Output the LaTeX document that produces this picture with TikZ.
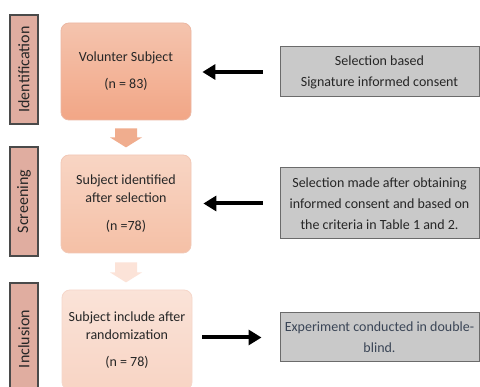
\documentclass[tikz,border=0pt]{standalone}
\usepackage{fontspec}
\setmainfont{Carlito}
\usetikzlibrary{arrows.meta}
\definecolor{txt}{HTML}{262626}
\definecolor{txtb}{HTML}{3A4556}
\definecolor{lblfill}{HTML}{E0ADA0}
\definecolor{lbldraw}{HTML}{4A4A4A}
\definecolor{grayfill}{HTML}{C9C9C9}
\definecolor{graydraw}{HTML}{6B6B6B}
\definecolor{aone}{HTML}{F0AD8E}
\definecolor{atwo}{HTML}{FCE3D8}
\begin{document}
\begin{tikzpicture}[x=1pt,y=-1pt,
  mainbox/.style={rounded corners=8pt, minimum width=130pt, align=center,
    text=txt, font=\fontsize{14}{18}\selectfont, line width=0.8pt},
  lblbox/.style={rotate=90, fill=lblfill, draw=lbldraw, line width=1.2pt,
    minimum width=109pt, minimum height=28pt, text=txt,
    font=\fontsize{16}{18}\selectfont},
  sidebox/.style={fill=grayfill, draw=graydraw, line width=1pt,
    minimum width=199pt, align=center, text=txt,
    font=\fontsize{14}{21}\selectfont},
  bigarrow/.style={line width=4pt, -{Triangle[length=13pt,width=15pt]}}]
\useasboundingbox (0,0) rectangle (480,387);
\clip (0,0) rectangle (480,387);
\fill[white] (0,0) rectangle (480,387);
% left labels
\node[lblbox] (l1) at (24,69.5) {Identification};
\node[lblbox] (l2) at (24,201.5) {Screening};
\node[lblbox, minimum width=112pt] (l3) at (24,339) {Inclusion};
% main boxes
\node[mainbox, minimum height=97pt, draw={rgb,255:red,236;green,184;blue,164},
  top color={rgb,255:red,244;green,196;blue,174}, bottom color={rgb,255:red,242;green,166;blue,134}]
  (b1) at (126,71.5) {Volunter Subject\\[9pt](n = 83)};
\node[mainbox, minimum height=98pt, draw={rgb,255:red,242;green,200;blue,182},
  top color={rgb,255:red,248;green,213;blue,196}, bottom color={rgb,255:red,245;green,192;blue,166}]
  (b2) at (126,204) {Subject identified\\after selection\\[10pt](n =78)};
\node[mainbox, minimum height=100pt, draw={rgb,255:red,246;green,215;blue,202},
  top color={rgb,255:red,250;green,227;blue,216}, bottom color={rgb,255:red,248;green,212;blue,196}]
  (b3) at (127,340) {Subject include after\\randomization\\[9pt](n = 78)};
% block arrows
\fill[aone] (b1.south) ++(-11,8) -- ++(22,0) -- ++(0,9) -- ++(5,0) -- ++(-16,10) -- ++(-16,-10) -- ++(5,0) -- cycle;
\fill[atwo] (b2.south) ++(-11,9) -- ++(22,0) -- ++(0,10) -- ++(5,0) -- ++(-16,10) -- ++(-16,-10) -- ++(5,0) -- cycle;
% side boxes
\node[sidebox, minimum height=50pt] (r1) at (379.5,72) {Selection based\\Signature informed consent};
\node[sidebox, minimum height=71pt] (r2) at (379.5,203.5) {Selection made after obtaining\\informed consent and based on\\the criteria in Table 1 and 2.};
\node[sidebox, minimum height=49pt, text=txtb] (r3) at (379.5,337.5) {Experiment conducted in double-\\blind.};
% arrows
\draw[bigarrow, shorten <=17pt, shorten >=11pt] (r1.west) -- (b1.east |- r1.west);
\draw[bigarrow, shorten <=17pt, shorten >=12pt] (r2.west) -- (b2.east |- r2.west);
\draw[bigarrow, shorten <=10pt, shorten >=18pt] (b3.east |- r3.west) -- (r3.west);
\end{tikzpicture}
\end{document}
